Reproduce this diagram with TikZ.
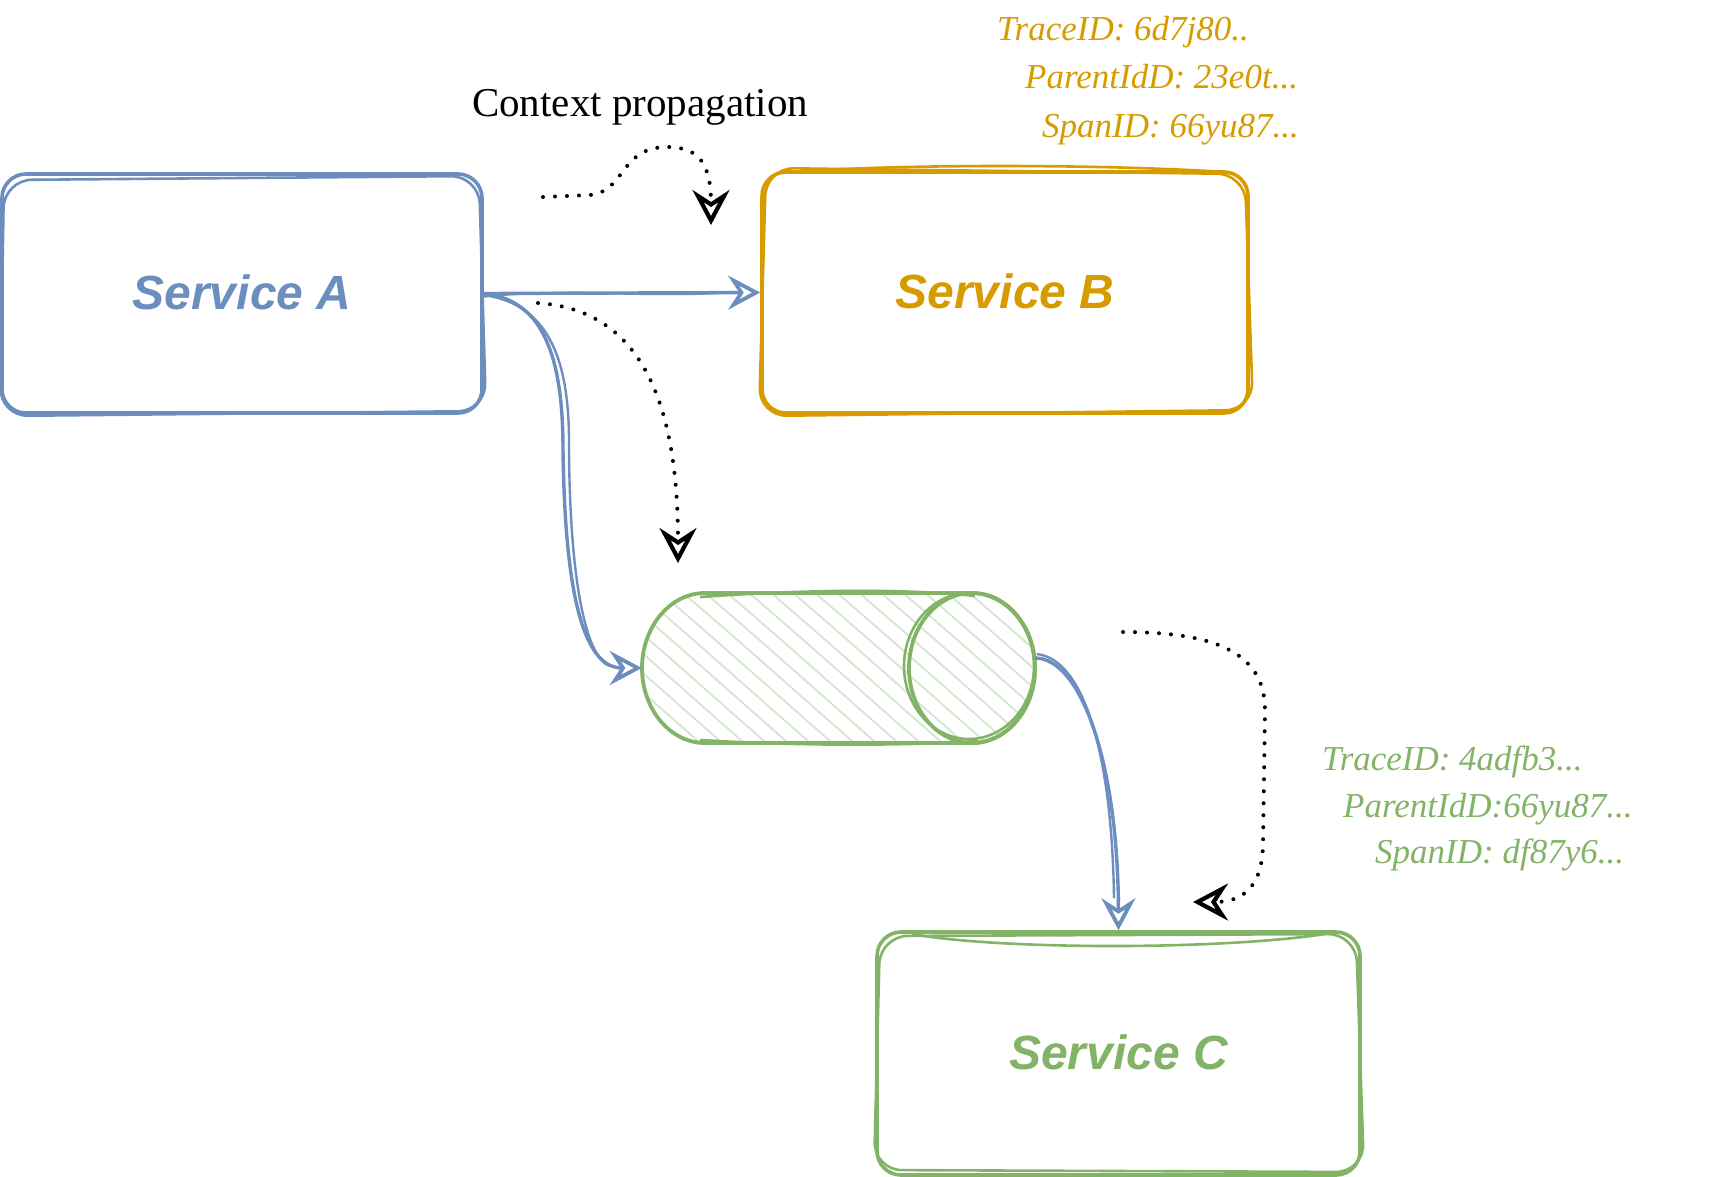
\documentclass[tikz,border=0pt]{standalone}
\usepackage{fontspec}
\newfontfamily\helv{Liberation Sans}
\newfontfamily\tms{Liberation Serif}
\usetikzlibrary{arrows.meta}
\definecolor{cblue}{HTML}{6C8EBF}
\definecolor{corange}{HTML}{D79B00}
\definecolor{cgreen}{HTML}{82B366}
\definecolor{chatch}{HTML}{D2E7CE}
\begin{document}
\begin{tikzpicture}[x=1pt,y=-1pt,
  svc/.style={draw=#1, text=#1, line width=3.6pt, rounded corners=24pt, inner sep=0pt,
    font=\helv\bfseries\itshape\fontsize{48}{56}\selectfont},
  skline/.style={draw=#1, line width=2.6pt, rounded corners=28pt},
  idtext/.style={text=#1, anchor=base west, inner sep=0pt, font=\tms\itshape\fontsize{35}{40}\selectfont},
  flow/.style={draw=cblue, line width=3.4pt,
    -{Stealth[open, length=32pt, width=34pt, inset=11pt, line width=3.8pt]}},
  flowx/.style={draw=cblue, line width=2.4pt},
  prop/.style={draw=black, line width=4pt, line cap=round, dash pattern=on 0pt off 12pt,
    -{Stealth[open, length=35pt, width=37pt, inset=12pt, line width=4.2pt]}},
]
\useasboundingbox (0,0) rectangle (1712,1176);

% ---- service boxes
\node[svc=cblue, minimum width=480pt, minimum height=239pt] (A) at (242,293.5) {\raisebox{3pt}{Service A}};
\node[svc=corange, minimum width=486pt, minimum height=241pt] (B) at (1005,292.5) {\raisebox{3pt}{Service B}};
\node[svc=cgreen, minimum width=483pt, minimum height=243pt] (C) at (1118.5,1053.5) {\raisebox{3pt}{Service C}};

% sketchy second strokes
\draw[skline=cblue] (4,180) -- (479,176) -- (486,411) -- (0,416) -- cycle;
\draw[skline=corange] (766,168) -- (1245,174) -- (1253,410) -- (759,416) -- cycle;
\draw[skline=cgreen] (880,936) -- (1356,934) -- (1364,1172) -- (874,1170) -- cycle;
\draw[cgreen, line width=2.6pt] (912,934) .. controls (1000,950) and (1220,950) .. (1325,934);
\draw[corange, line width=2.6pt] (790,172) .. controls (900,164) and (1100,164) .. (1225,172);

% ---- queue (horizontal cylinder)
\node[minimum width=393pt, minimum height=150pt, inner sep=0pt] (Q) at (838.5,668) {};
\begin{scope}
  \clip (705,593) -- (972,593) .. controls (1007,593) and (1035,627) .. (1035,668)
        .. controls (1035,709) and (1007,743) .. (972,743) -- (705,743)
        .. controls (670,743) and (642,709) .. (642,668)
        .. controls (642,627) and (670,593) .. (705,593) -- cycle;
  \foreach \x in {380,402,...,1060}
    \draw[chatch, line width=1.8pt] (\x,560) .. controls (\x+90,635) and (\x+160,700) .. ++(253,220);
\end{scope}
\draw[cgreen, line width=3.8pt] (705,593) -- (972,593) .. controls (1007,593) and (1035,627) .. (1035,668)
        .. controls (1035,709) and (1007,743) .. (972,743) -- (705,743)
        .. controls (670,743) and (642,709) .. (642,668)
        .. controls (642,627) and (670,593) .. (705,593) -- cycle;
\draw[cgreen, line width=2.6pt] (700,597) .. controls (800,590) and (900,588) .. (975,596);
\draw[cgreen, line width=2.6pt] (700,740) .. controls (800,746) and (900,746) .. (978,741);
\draw[cgreen, line width=3.8pt] (972,668) ellipse [x radius=63, y radius=75];
\draw[cgreen, line width=2.6pt] (969,666) ellipse [x radius=65, y radius=73];

% ---- labels
\node[font=\tms\fontsize{41}{48}\selectfont, anchor=base, inner sep=0pt] (ctx) at (640,116) {Context propagation};
\node[idtext=corange] (b1) at (997,40) {TraceID: 6d7j80..};
\node[idtext=corange] (b2) at (1025,88) {ParentIdD: 23e0t...};
\node[idtext=corange] (b3) at (1042,137) {SpanID: 66yu87...};
\node[idtext=cgreen] (c1) at (1322,770) {TraceID: 4adfb3...};
\node[idtext=cgreen] (c2) at (1343,817) {ParentIdD:66yu87...};
\node[idtext=cgreen] (c3) at (1375,863) {SpanID: df87y6...};

% ---- blue request arrows
\draw[flow] (A.east) -- (B.west);
\draw[flowx] ([yshift=-3pt]A.east) .. controls (560,288) and (660,298) .. (732,292);
\draw[flow] (A.east) .. controls (545,300) and (563,360) .. (563,450)
            .. controls (565,600) and (585,668) .. (Q.west);
\draw[flowx] (484,295) .. controls (552,305) and (570,365) .. (569,450)
            .. controls (570,590) and (588,660) .. (610,666);
\draw[flow] ([yshift=10pt]Q.east) .. controls (1080,658) and (1118,760) .. (C.north);
\draw[flowx] (1037,654) .. controls (1086,660) and (1112,760) .. (1114,898);

% ---- context propagation (dotted)
\coordinate (p1) at (543,197); \coordinate (p1e) at (711,225);
\coordinate (p2) at (538,303); \coordinate (p2e) at (678,563);
\coordinate (p3) at (1123,632); \coordinate (p3e) at (1193,902);
\draw[prop] (p1) -- (590,195) .. controls (625,192) and (620,147) .. (667,147)
            .. controls (700,147) and (711,165) .. (p1e);
\draw[prop] (p2) .. controls (640,310) and (678,400) .. (p2e);
\draw[prop] (p3) .. controls (1210,632) and (1265,650) .. (1265,710) -- (1263,845)
            .. controls (1262,890) and (1240,902) .. (p3e);
\end{tikzpicture}
\end{document}
